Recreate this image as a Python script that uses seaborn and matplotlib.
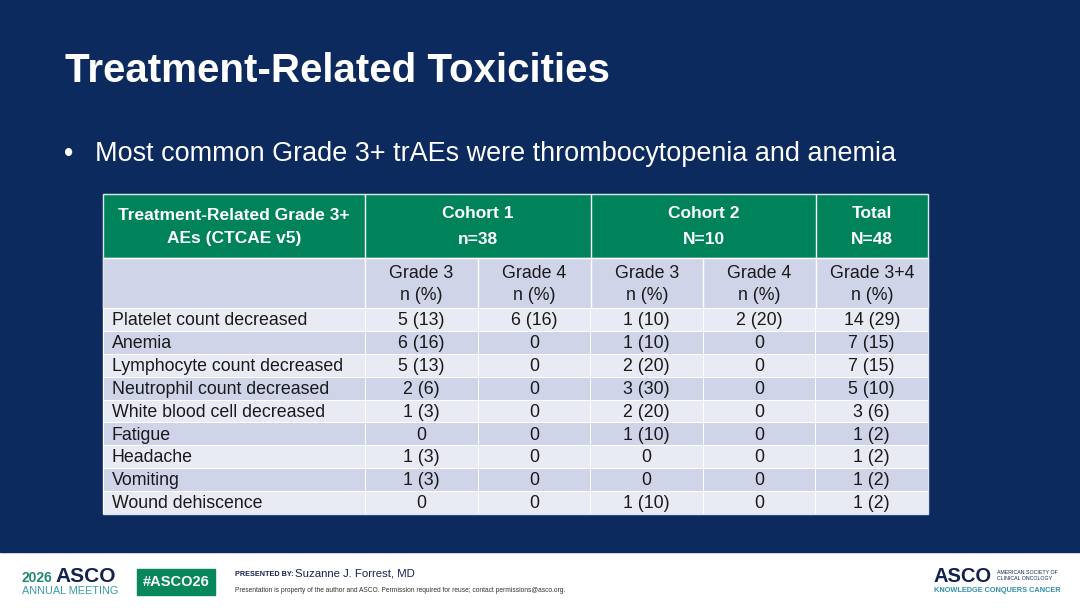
import numpy as np
import matplotlib
matplotlib.use("Agg")
import matplotlib.pyplot as plt
from matplotlib.patches import Rectangle
from matplotlib.colors import ListedColormap
import seaborn as sns

# table content
events = ["Platelet count decreased", "Anemia", "Lymphocyte count decreased",
          "Neutrophil count decreased", "White blood cell decreased", "Fatigue",
          "Headache", "Vomiting", "Wound dehiscence"]
c1_g3 = ["5 (13)", "6 (16)", "5 (13)", "2 (6)", "1 (3)", "0", "1 (3)", "1 (3)", "0"]
c1_g4 = ["6 (16)", "0", "0", "0", "0", "0", "0", "0", "0"]
c2_g3 = ["1 (10)", "1 (10)", "2 (20)", "3 (30)", "2 (20)", "1 (10)", "0", "0", "1 (10)"]
c2_g4 = ["2 (20)", "0", "0", "0", "0", "0", "0", "0", "0"]
total = ["14 (29)", "7 (15)", "7 (15)", "5 (10)", "3 (6)", "1 (2)", "1 (2)", "1 (2)", "1 (2)"]
first_head = ["Treatment-Related Grade 3+", "AEs (CTCAE v5)"]
groups = [("Cohort 1", "n=38"), ("Cohort 2", "N=10"), ("Total", "N=48")]
grades = ["Grade 3", "Grade 4", "Grade 3", "Grade 4", "Grade 3+4"]

NAVY = "#0c2a5e"
GREEN = "#00835a"
LIGHT = "#e9ebf4"
DARK = "#cfd4e8"
INK = "#1a1a1a"

sns.set_style("white")
plt.rcParams["font.family"] = ["Liberation Sans", "DejaVu Sans"]

W, H = 1080, 608
fig = plt.figure(figsize=(10.8, 6.08), dpi=100)
fig.patch.set_facecolor("white")

# background axes in pixel coords
ax = fig.add_axes([0, 0, 1, 1])
ax.set_xlim(0, W)
ax.set_ylim(H, 0)
ax.axis("off")
ax.add_patch(Rectangle((0, 0), W, 552, color=NAVY, zorder=0))

ax.text(65, 82, "Treatment-Related Toxicities", color="white", fontsize=29,
        fontweight="bold", va="baseline", ha="left")
ax.text(64, 154, "•", color="white", fontsize=19.4, va="center", ha="left")
ax.text(95, 154, "Most common Grade 3+ trAEs were thrombocytopenia and anemia",
        color="white", fontsize=19.45, va="center", ha="left")

# table geometry (pixels)
xs = [103, 365, 478, 591, 703, 816, 928]
y_top, y_sub, y_body, y_bot = 194, 258, 308, 514

ax.add_patch(Rectangle((xs[0], y_top), xs[-1] - xs[0], y_sub - y_top, color=GREEN, zorder=1))
ax.add_patch(Rectangle((xs[0], y_sub), xs[-1] - xs[0], y_body - y_sub, color=DARK, zorder=1))
for x in [365, 591, 816]:
    ax.plot([x, x], [y_top, y_sub], color="white", lw=1.0, zorder=2)
for x in xs[1:-1]:
    ax.plot([x, x], [y_sub, y_body], color="white", lw=1.0, zorder=2)
ax.plot([xs[0], xs[-1]], [y_sub, y_sub], color="white", lw=1.0, zorder=2)
ax.add_patch(Rectangle((xs[0], y_top), xs[-1] - xs[0], y_bot - y_top, fill=False,
                       ec="#dfe3ee", lw=1.0, zorder=3))

# header texts, one line at a time
cx0 = (xs[0] + xs[1]) / 2
ax.text(cx0, 215, first_head[0], color="white", fontsize=12.5, fontweight="bold",
        ha="center", va="center")
ax.text(cx0, 239, first_head[1], color="white", fontsize=12.5, fontweight="bold",
        ha="center", va="center")
spans = [(xs[1], xs[3]), (xs[3], xs[5]), (xs[5], xs[6])]
for (a, b), (g, n) in zip(spans, groups):
    ax.text((a + b) / 2, 213, g, color="white", fontsize=12.5, fontweight="bold",
            ha="center", va="center")
    ax.text((a + b) / 2, 240, n, color="white", fontsize=12.5, fontweight="bold",
            ha="center", va="center")
for i, g in enumerate(grades):
    cx = (xs[i + 1] + xs[i + 2]) / 2
    ax.text(cx, 273, g, color=INK, fontsize=12.8, ha="center", va="center")
    ax.text(cx, 295, "n (%)", color=INK, fontsize=12.8, ha="center", va="center")

# body rows via seaborn heatmaps
stripe = np.array([i % 2 for i in range(len(events))])
cmap = ListedColormap([LIGHT, DARK])
body_h = (y_bot - y_body) / H
body_b = (H - y_bot) / H

ax_lab = fig.add_axes([xs[0] / W, body_b, (xs[1] - xs[0]) / W, body_h])
sns.heatmap(stripe.reshape(-1, 1), ax=ax_lab, cmap=cmap, vmin=0, vmax=1, cbar=False,
            linewidths=0.7, linecolor="white", xticklabels=False, yticklabels=False)
for i, e in enumerate(events):
    ax_lab.text(0.034, i + 0.55, e, fontsize=12.8, color=INK, ha="left", va="center")

vals = np.column_stack([c1_g3, c1_g4, c2_g3, c2_g4, total])
ax_val = fig.add_axes([xs[1] / W, body_b, (xs[-1] - xs[1]) / W, body_h])
sns.heatmap(np.repeat(stripe.reshape(-1, 1), 5, axis=1), ax=ax_val, cmap=cmap, vmin=0, vmax=1,
            cbar=False, linewidths=0.7, linecolor="white", annot=vals, fmt="",
            annot_kws={"fontsize": 12.8, "color": INK},
            xticklabels=False, yticklabels=False)
for t in ax_val.texts:
    x, y = t.get_position()
    t.set_position((x, y + 0.05))

# footer
ax.text(22, 578, "2026", color="#1f8a6f", fontsize=10, fontweight="bold", va="center")
ax.text(55, 577, "ASCO", color="#14224f", fontsize=15, fontweight="bold", va="center")
ax.text(22, 591, "ANNUAL MEETING", color="#3a9aa6", fontsize=7.8, va="center")
ax.add_patch(Rectangle((137, 569), 78, 26, color="#08875a", zorder=1))
ax.text(176, 582, "#ASCO26", color="white", fontsize=10.5, fontweight="bold",
        ha="center", va="center", zorder=2)
ax.text(235, 575, "PRESENTED BY:", color="#14224f", fontsize=5.2, fontweight="bold", va="center")
ax.text(295, 574, "Suzanne J. Forrest, MD", color="#14224f", fontsize=8.2, va="center")
ax.text(235, 591, "Presentation is property of the author and ASCO. Permission required for reuse; "
        "contact permissions@asco.org.", color="#333333", fontsize=4.75, va="center")
ax.text(934, 576, "ASCO", color="#14224f", fontsize=14.5, fontweight="bold", va="center")
ax.text(997, 573, "AMERICAN SOCIETY OF", color="#14224f", fontsize=3.8, va="center")
ax.text(997, 579, "CLINICAL ONCOLOGY", color="#14224f", fontsize=3.8, va="center")
ax.text(934, 591, "KNOWLEDGE CONQUERS CANCER", color="#2f8fab", fontsize=5.3,
        fontweight="bold", va="center")

fig.savefig("out.png", dpi=100, facecolor=fig.get_facecolor())
